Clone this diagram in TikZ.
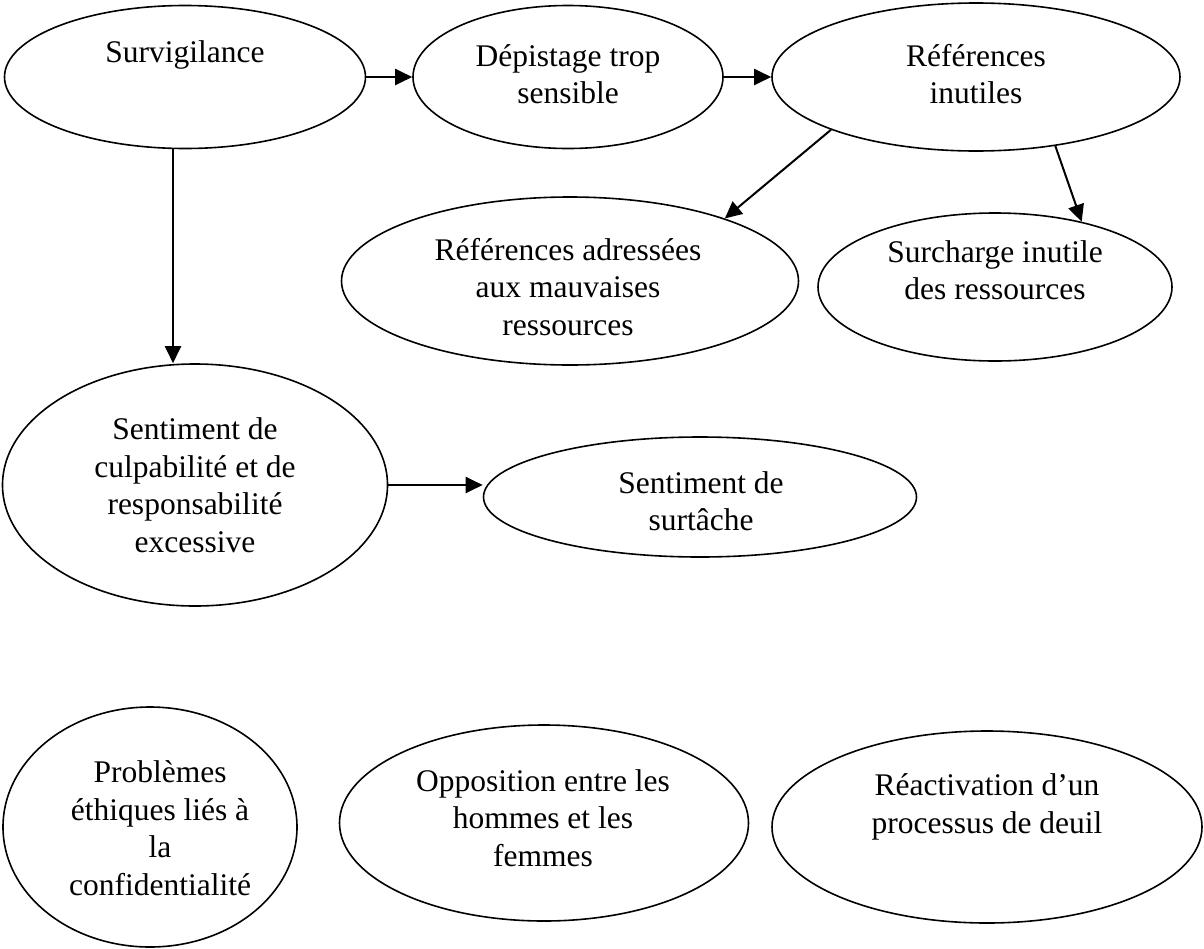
\documentclass[tikz,border=0pt]{standalone}
\usepackage{fontspec}
\setmainfont{Liberation Serif}
\usetikzlibrary{arrows.meta,shapes.geometric}
\begin{document}
\begin{tikzpicture}[x=1pt,y=-1pt,
  ell/.style={draw=black,line width=1.6pt,ellipse,inner sep=0pt},
  txt/.style={align=center,font=\fontsize{31.5}{37.5}\selectfont,inner sep=0pt},
  arr/.style={line width=2pt,-{Triangle[length=17pt,width=16pt]}}]
\useasboundingbox (0,0) rectangle (1204,948);
% ellipses
\node[ell,minimum width=361pt,minimum height=143pt] (s1) at (185,77) {};
\node[ell,minimum width=310pt,minimum height=143pt] (s2) at (568,77) {};
\node[ell,minimum width=408pt,minimum height=148pt] (s3) at (976,77) {};
\node[ell,minimum width=457pt,minimum height=168pt] (s4) at (570,281) {};
\node[ell,minimum width=354pt,minimum height=148pt] (s6) at (995,287) {};
\node[ell,minimum width=385pt,minimum height=242pt] (s5) at (195,485) {};
\node[ell,minimum width=433pt,minimum height=120pt] (s7) at (700,497) {};
\node[ell,minimum width=294pt,minimum height=240pt] (s8) at (150,827) {};
\node[ell,minimum width=409pt,minimum height=196pt] (s9) at (544,823) {};
\node[ell,minimum width=430pt,minimum height=192pt] (s10) at (987,827) {};
% texts
\node[txt] (t1) at (185,55) {Survigilance};
\node[txt] (t2) at (568,74) {Dépistage trop\\sensible};
\node[txt] (t3) at (976,74) {Références\\inutiles};
\node[txt] (t4) at (568,287) {Références adressées\\aux mauvaises\\ressources};
\node[txt] (t6) at (995,270) {Surcharge inutile\\des ressources};
\node[txt] (t5) at (195,485) {Sentiment de\\culpabilité et de\\responsabilité\\excessive};
\node[txt] (t7) at (701,501) {Sentiment de\\surtâche};
\node[txt] (t8) at (160,828) {Problèmes\\éthiques liés à\\la\\confidentialité};
\node[txt] (t9) at (543,818) {Opposition entre les\\hommes et les\\femmes};
\node[txt] (t10) at (987,807) {Réactivation d’un\\processus de deuil};
% connectors
\coordinate (v) at (173,0);
\draw[arr] (s1.east) -- (s2.west);
\draw[arr] (s2.east) -- (s3.west);
\draw[arr] (s1.south -| v) -- (s5.north -| v);
\draw[arr] (s3.200) -- (s4.22);
\draw[arr] (s3.319) -- (s6.37);
\draw[arr] (s5.east) -- (s5.east -| s7.west);
\end{tikzpicture}
\end{document}
